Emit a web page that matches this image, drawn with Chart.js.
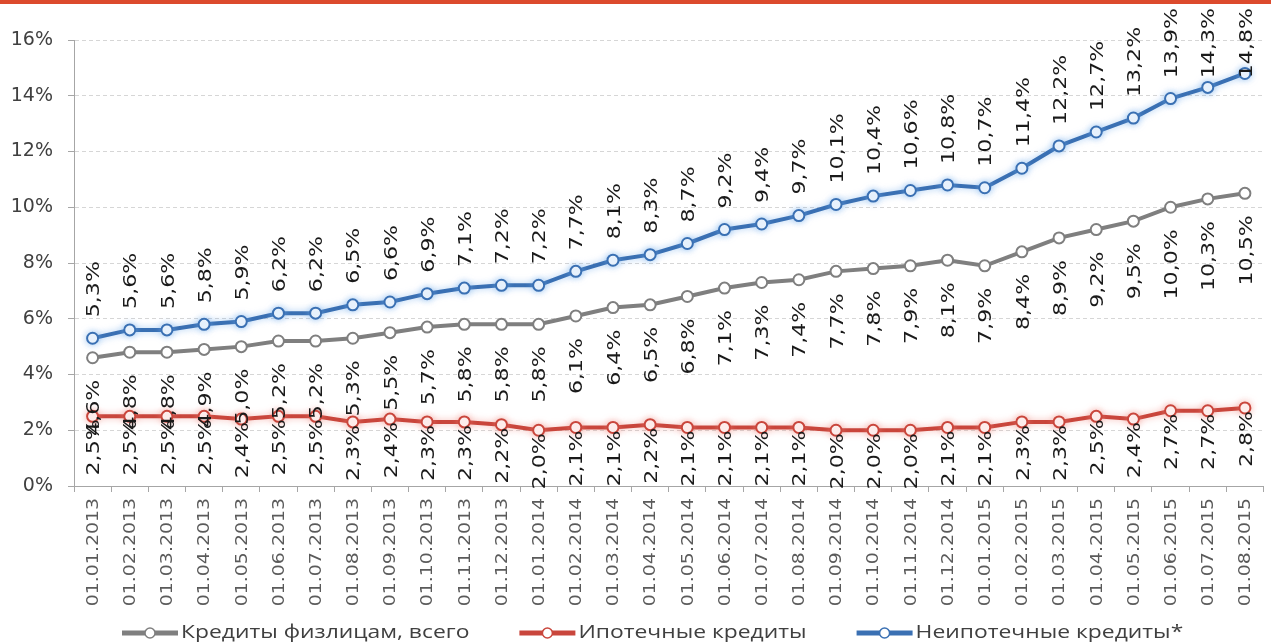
<!DOCTYPE html>
<html>
<head>
<meta charset="utf-8">
<script src="https://cdn.jsdelivr.net/npm/chart.js@4.4.0/dist/chart.umd.min.js"></script>
<style>
  html, body { margin: 0; padding: 0; background: #ffffff; }
  #wrap { width: 1271px; height: 644px; position: relative; }
</style>
</head>
<body>
<div id="wrap"><canvas id="c"></canvas></div>
<script>
// Monthly reporting dates
const categories = [
  '01.01.2013','01.02.2013','01.03.2013','01.04.2013','01.05.2013','01.06.2013',
  '01.07.2013','01.08.2013','01.09.2013','01.10.2013','01.11.2013','01.12.2013',
  '01.01.2014','01.02.2014','01.03.2014','01.04.2014','01.05.2014','01.06.2014',
  '01.07.2014','01.08.2014','01.09.2014','01.10.2014','01.11.2014','01.12.2014',
  '01.01.2015','01.02.2015','01.03.2015','01.04.2015','01.05.2015','01.06.2015',
  '01.07.2015','01.08.2015'
];

// Overdue share, %
const totalLoans = [
  4.6, 4.8, 4.8, 4.9, 5.0, 5.2, 5.2, 5.3, 5.5, 5.7, 5.8, 5.8,
  5.8, 6.1, 6.4, 6.5, 6.8, 7.1, 7.3, 7.4, 7.7, 7.8, 7.9, 8.1,
  7.9, 8.4, 8.9, 9.2, 9.5, 10.0, 10.3, 10.5
];
const mortgageLoans = [
  2.5, 2.5, 2.5, 2.5, 2.4, 2.5, 2.5, 2.3, 2.4, 2.3, 2.3, 2.2,
  2.0, 2.1, 2.1, 2.2, 2.1, 2.1, 2.1, 2.1, 2.0, 2.0, 2.0, 2.1,
  2.1, 2.3, 2.3, 2.5, 2.4, 2.7, 2.7, 2.8
];
const nonMortgageLoans = [
  5.3, 5.6, 5.6, 5.8, 5.9, 6.2, 6.2, 6.5, 6.6, 6.9, 7.1, 7.2,
  7.2, 7.7, 8.1, 8.3, 8.7, 9.2, 9.4, 9.7, 10.1, 10.4, 10.6, 10.8,
  10.7, 11.4, 12.2, 12.7, 13.2, 13.9, 14.3, 14.8
];

const seriesNames = ['Кредиты физлицам, всего', 'Ипотечные кредиты', 'Неипотечные кредиты*'];
const yMin = 0, yMax = 16, yStep = 2;

const fmtPct = v => v.toFixed(1).replace('.', ',') + '%';

const COLORS = { total: '#7f7f7f', mortgage: '#c9463c', nonMortgage: '#3a70b3' };

// Thin accent strip across the top edge
const topStrip = {
  id: 'topStrip',
  beforeDraw(chart) {
    const { ctx, width } = chart;
    ctx.save();
    ctx.fillStyle = '#dc4a2d';
    ctx.fillRect(0, 0, width, 4);
    ctx.restore();
  }
};

// Soft glow under the coloured lines
const lineGlow = {
  id: 'lineGlow',
  beforeDatasetDraw(chart, args) {
    const ds = chart.data.datasets[args.index];
    if (!ds.glow) return;
    chart.ctx.save();
    chart.ctx.shadowColor = ds.glow;
    chart.ctx.shadowBlur = 7;
  },
  afterDatasetDraw(chart, args) {
    const ds = chart.data.datasets[args.index];
    if (!ds.glow) return;
    chart.ctx.restore();
  }
};

// Vertical value labels next to each point
const valueLabels = {
  id: 'valueLabels',
  afterDatasetsDraw(chart) {
    const ctx = chart.ctx;
    const LEN = 1.3, THICK = 1.05;
    chart.data.datasets.forEach((ds, di) => {
      const meta = chart.getDatasetMeta(di);
      const cfg = ds.valueLabel;
      meta.data.forEach((pt, i) => {
        const text = fmtPct(ds.data[i]);
        ctx.save();
        ctx.font = '17px "DejaVu Sans"';
        const w = ctx.measureText(text).width * LEN;
        let bottom;
        if (cfg.side === 'above') {
          let top = pt.y - cfg.gap - w;
          if (top < 8) top = 8;
          bottom = top + w;
        } else {
          bottom = pt.y + cfg.gap + w;
        }
        ctx.translate(pt.x + 2, bottom);
        ctx.scale(THICK, LEN);
        ctx.rotate(-Math.PI / 2);
        ctx.fillStyle = '#1a1a1a';
        ctx.textAlign = 'left';
        ctx.textBaseline = 'middle';
        ctx.fillText(text, 0, 0);
        ctx.restore();
      });
    });
  }
};

// Rotated date labels under the category axis
const dateLabels = {
  id: 'dateLabels',
  afterDraw(chart) {
    const ctx = chart.ctx;
    const xs = chart.scales.x;
    const top = chart.chartArea.bottom + 12;
    categories.forEach((lab, i) => {
      const x = xs.getPixelForValue(i);
      ctx.save();
      ctx.translate(x + 1, top);
      ctx.scale(1.1, 1.26);
      ctx.rotate(-Math.PI / 2);
      ctx.font = '15px "DejaVu Sans"';
      ctx.fillStyle = '#5a5a5a';
      ctx.textAlign = 'right';
      ctx.textBaseline = 'middle';
      ctx.fillText(lab, 0, 0);
      ctx.restore();
    });
  }
};

// Legend row: line-with-marker sample followed by the series name
const lineLegend = {
  id: 'lineLegend',
  afterDraw(chart) {
    const ctx = chart.ctx;
    const y = 633;
    const markW = 56, textGap = 3, itemGap = 50, SX = 1.27;
    let x = 122;
    ctx.save();
    ctx.font = '18px "Open Sans"';
    chart.data.datasets.forEach(ds => {
      const c = ds.borderColor;
      ctx.lineWidth = 5;
      ctx.strokeStyle = c;
      ctx.beginPath();
      ctx.moveTo(x, y);
      ctx.lineTo(x + markW, y);
      ctx.stroke();
      ctx.beginPath();
      ctx.arc(x + markW / 2, y, 5, 0, Math.PI * 2);
      ctx.fillStyle = '#ffffff';
      ctx.fill();
      ctx.lineWidth = 1.5;
      ctx.stroke();
      const tx = x + markW + textGap;
      const tw = ctx.measureText(ds.label).width * SX;
      ctx.save();
      ctx.translate(tx, y);
      ctx.scale(SX, 1);
      ctx.fillStyle = '#404040';
      ctx.textAlign = 'left';
      ctx.textBaseline = 'middle';
      ctx.fillText(ds.label, 0, 0);
      ctx.restore();
      x = tx + tw + itemGap;
    });
    ctx.restore();
  }
};

function lineSeries(label, data, color, glow, valueLabel) {
  return {
    label, data,
    borderColor: color,
    backgroundColor: color,
    borderWidth: 4,
    pointRadius: 5.5,
    pointHoverRadius: 5.5,
    pointBorderWidth: 2,
    pointBackgroundColor: '#ffffff',
    pointBorderColor: color,
    tension: 0,
    fill: false,
    glow,
    valueLabel
  };
}

new Chart(document.getElementById('c'), {
  type: 'line',
  data: {
    labels: categories,
    datasets: [
      lineSeries(seriesNames[0], totalLoans, COLORS.total, null, { side: 'below', gap: 22 }),
      lineSeries(seriesNames[1], mortgageLoans, COLORS.mortgage, 'rgba(240,130,120,0.55)', { side: 'below', gap: 3 }),
      lineSeries(seriesNames[2], nonMortgageLoans, COLORS.nonMortgage, 'rgba(110,170,235,0.6)', { side: 'above', gap: 21 })
    ]
  },
  options: {
    responsive: true,
    maintainAspectRatio: false,
    animation: false,
    events: [],
    layout: { padding: { top: 40, right: 4, bottom: 30, left: 0 } },
    plugins: {
      legend: { display: false },
      tooltip: { enabled: false }
    },
    scales: {
      x: {
        type: 'category',
        offset: true,
        ticks: { display: false },
        grid: {
          display: true,
          offset: true,
          drawOnChartArea: false,
          drawTicks: true,
          tickLength: 6,
          color: '#a6a6a6',
          tickColor: '#a6a6a6'
        },
        border: { display: true, color: '#a6a6a6', width: 1 },
        afterFit(scale) { scale.height = 128; }
      },
      y: {
        min: yMin,
        max: yMax,
        ticks: {
          stepSize: yStep,
          padding: 15,
          color: '#404040',
          font: { family: '"DejaVu Sans"', size: 19 },
          callback: v => v + '%'
        },
        grid: {
          color: '#d6d6d6',
          tickColor: '#a6a6a6',
          tickLength: 6,
          lineWidth: 1
        },
        border: { display: true, color: '#a6a6a6', width: 1, dash: [4, 3] },
        afterFit(scale) { scale.width = 74; }
      }
    }
  },
  plugins: [topStrip, lineGlow, valueLabels, dateLabels, lineLegend]
});
</script>
</body>
</html>
